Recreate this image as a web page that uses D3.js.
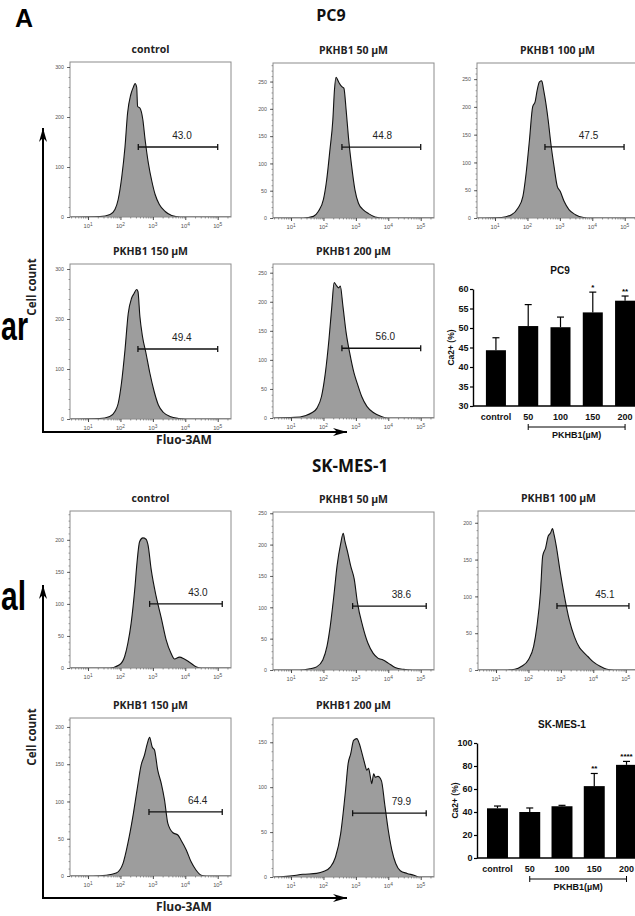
<!DOCTYPE html>
<html><head><meta charset="utf-8">
<script src="https://cdn.jsdelivr.net/npm/d3@7"></script>
<style>body{margin:0;background:#fff}svg{display:block}</style>
</head><body><svg id="c" width="635" height="916"></svg>
<script>
// ---------------- DATA ----------------
const histTitles = ["control","PKHB1 50 µM","PKHB1 100 µM","PKHB1 150 µM","PKHB1 200 µM",
                    "control","PKHB1 50 µM","PKHB1 100 µM","PKHB1 150 µM","PKHB1 200 µM"];
const gatePercents = ["43.0","44.8","47.5","49.4","56.0","43.0","38.6","45.1","64.4","79.9"];
const gateStart = [2.55,2.57,2.54,2.54,2.57,2.90,2.90,2.88,2.88,2.90];   // log10 fluorescence
const gateEnd   = [5.00,5.00,4.98,5.00,5.00,5.14,5.17,5.10,5.14,5.17];
const gateCount = [140,130,128,140,120,100,102,87,86,71];
const countMax  = [310,284,279,310,265,245,252,216,212,177];
const countTicks = [[0,100,200,300],[0,50,100,150,200,250],[0,50,100,150,200,250],[0,100,200,300],[0,50,100,150,200,250],
                    [0,50,100,150,200],[0,50,100,150,200,250],[0,50,100,150,200],[0,50,100,150,200],[0,50,100,150]];
const decadeTicks = [1,2,3,4,5];

// histograms: [log10 Fluo-3AM, cell count]
const pc9Control = [[1.37,1],[1.68,5],[1.83,15],[1.93,35],[2.04,80],[2.14,140],[2.22,208],[2.32,245],[2.40,260],[2.45,267],[2.50,260],[2.53,221],[2.60,218],[2.69,195],[2.76,155],[2.86,108],[2.97,71],[3.07,45],[3.20,25],[3.38,11],[3.58,3],[3.84,0]];
const pc9_50 = [[1.38,0],[1.69,3],[1.84,12],[2.00,34],[2.10,70],[2.20,125],[2.29,180],[2.34,235],[2.39,258],[2.43,254],[2.49,247],[2.56,241],[2.63,238],[2.70,198],[2.77,149],[2.87,95],[2.97,52],[3.08,27],[3.23,15],[3.39,8],[3.59,2],[3.85,0]];
const pc9_100 = [[1.20,1],[1.51,6],[1.71,18],[1.86,39],[1.96,81],[2.06,139],[2.16,200],[2.24,210],[2.30,230],[2.37,245],[2.44,247],[2.50,230],[2.57,206],[2.64,176],[2.72,135],[2.82,93],[2.92,57],[3.01,48],[3.13,30],[3.28,15],[3.48,6],[3.73,1],[3.94,0]];
const pc9_150 = [[1.36,1],[1.67,5],[1.83,15],[1.93,31],[2.03,71],[2.14,138],[2.24,211],[2.34,241],[2.42,251],[2.50,259],[2.54,255],[2.60,205],[2.68,165],[2.79,131],[2.91,91],[3.04,55],[3.17,28],[3.33,13],[3.53,5],[3.79,1],[4.00,0]];
const pc9_200 = [[1.11,1],[1.43,4],[1.64,9],[1.80,17],[1.94,37],[2.06,78],[2.17,135],[2.26,193],[2.33,233],[2.40,228],[2.47,224],[2.52,227],[2.60,193],[2.70,147],[2.81,112],[2.94,78],[3.04,60],[3.18,37],[3.34,20],[3.55,9],[3.77,3],[3.98,0]];
const skControl = [[1.67,0],[1.97,5],[2.13,18],[2.23,39],[2.33,70],[2.44,122],[2.51,164],[2.59,197],[2.69,203],[2.79,201],[2.85,192],[2.95,153],[3.10,112],[3.26,78],[3.41,44],[3.56,23],[3.67,14],[3.82,17],[3.97,14],[4.13,9],[4.33,2],[4.49,0]];
const sk_50 = [[1.26,0],[1.58,2],[1.79,5],[1.98,16],[2.11,38],[2.21,70],[2.32,118],[2.42,166],[2.53,201],[2.61,218],[2.66,206],[2.76,185],[2.84,166],[2.95,145],[3.05,107],[3.21,70],[3.37,43],[3.53,27],[3.68,19],[3.84,16],[4.00,11],[4.21,4],[4.47,1],[4.74,0]];
const sk_100 = [[1.26,0],[1.58,1],[1.79,5],[2.00,14],[2.16,32],[2.26,59],[2.37,105],[2.44,155],[2.53,166],[2.61,182],[2.68,186],[2.74,192],[2.79,184],[2.86,168],[2.97,136],[3.11,100],[3.26,68],[3.42,45],[3.58,30],[3.68,25],[3.84,18],[4.00,11],[4.21,5],[4.42,1],[4.63,0]];
const sk_150 = [[1.15,0],[1.56,1],[1.87,4],[2.08,17],[2.23,44],[2.38,79],[2.51,115],[2.64,149],[2.74,162],[2.83,178],[2.90,186],[2.98,173],[3.05,169],[3.15,142],[3.26,124],[3.36,102],[3.46,71],[3.62,58],[3.77,55],[3.87,48],[4.03,35],[4.18,19],[4.33,8],[4.49,1],[4.64,0]];
const sk_200 = [[0.45,0],[0.95,1],[1.37,3],[1.79,4],[2.00,6],[2.21,11],[2.37,22],[2.53,48],[2.68,96],[2.76,126],[2.84,137],[2.93,152],[3.03,154],[3.11,148],[3.18,139],[3.26,128],[3.34,119],[3.39,121],[3.45,111],[3.49,104],[3.55,115],[3.60,111],[3.68,112],[3.79,107],[3.89,81],[4.00,52],[4.11,30],[4.23,15],[4.37,7],[4.58,4],[4.79,2],[4.95,0]];
const hists = [pc9Control,pc9_50,pc9_100,pc9_150,pc9_200,skControl,sk_50,sk_100,sk_150,sk_200];

const barCats = ["control","50","100","150","200"];
const pc9Means = [44.3,50.5,50.2,54.0,57.0];
const pc9Errs  = [3.2,5.5,2.6,5.2,1.2];
const pc9Sig   = ["","","","*","**"];
const pc9Ticks = [30,35,40,45,50,55,60];
const skMeans = [43.2,40.0,45.0,62.5,81.0];
const skErrs  = [2.0,3.5,0.8,11.0,3.0];
const skSig   = ["","","","**","****"];
const skTicks = [0,20,40,60,80,100];

// ---------------- LAYOUT ----------------
const boxes = [
  {x:70,y:62,b:217,lo:4},{x:273,y:63,b:218,lo:1},{x:477,y:63,b:218,lo:4},
  {x:70,y:264,b:419,lo:4},{x:273,y:264,b:418,lo:4},
  {x:70,y:511,b:668,lo:12},{x:273,y:512,b:670,lo:12},{x:478,y:511,b:670,lo:12},
  {x:70,y:718,b:876,lo:12},{x:273,y:718,b:877,lo:12}
];
const BW = 161, LOGDOM = [0.444, 5.41];
const TF = "'Open Sans', 'DejaVu Sans', sans-serif";
const AF = "'Liberation Sans', Arial, sans-serif";

const svg = d3.select("#c");
const defs = svg.append("defs");

function drawHist(i){
  const bx = boxes[i];
  const x = d3.scaleLinear().domain(LOGDOM).range([bx.x, bx.x+BW]);
  const y = d3.scaleLinear().domain([0,countMax[i]]).range([bx.b, bx.y]);
  const g = svg.append("g");
  const cid = "clip"+i;
  defs.append("clipPath").attr("id",cid).append("rect")
    .attr("x",bx.x).attr("y",bx.y).attr("width",BW).attr("height",bx.b-bx.y);
  const full = [[LOGDOM[0],0], ...hists[i], [LOGDOM[1],0]];
  const area = d3.area().x(d=>x(d[0])).y0(bx.b).y1(d=>y(d[1])).curve(d3.curveMonotoneX);
  const line = d3.line().x(d=>x(d[0])).y(d=>y(d[1])).curve(d3.curveMonotoneX);
  g.append("path").datum(full).attr("d",area).attr("fill","#9d9d9d").attr("clip-path",`url(#${cid})`);
  g.append("path").datum(full).attr("d",line).attr("fill","none").attr("stroke","#111").attr("stroke-width",1.1).attr("clip-path",`url(#${cid})`);
  g.append("rect").attr("x",bx.x).attr("y",bx.y).attr("width",BW).attr("height",bx.b-bx.y)
    .attr("fill","none").attr("stroke","#8c8c8c").attr("stroke-width",1);
  // y axis
  const tk = countTicks[i];
  const step = tk[1]-tk[0];
  const minor = d3.range(0, countMax[i]+0.01, step/5);
  const yMinor = g.append("g").attr("transform",`translate(${bx.x},0)`)
    .call(d3.axisLeft(y).tickValues(minor).tickSize(1.5).tickFormat(""));
  yMinor.select(".domain").remove();
  yMinor.selectAll("line").attr("stroke","#666").attr("stroke-width",0.6);
  const yMaj = g.append("g").attr("transform",`translate(${bx.x},0)`)
    .call(d3.axisLeft(y).tickValues(tk).tickSize(3).tickPadding(3));
  yMaj.select(".domain").remove();
  yMaj.selectAll("line").attr("stroke","#444").attr("stroke-width",0.8);
  yMaj.selectAll("text").attr("font-size",5.3).attr("font-family",AF).attr("fill","#555");
  // x axis
  const minX = [];
  for(let d=0; d<6; d++) for(let k=2;k<10;k++){const v=d+Math.log10(k); if(v>LOGDOM[0]&&v<LOGDOM[1]) minX.push(v);}
  const xMinor = g.append("g").attr("transform",`translate(0,${bx.b})`)
    .call(d3.axisBottom(x).tickValues(minX).tickSize(1.5).tickFormat(""));
  xMinor.select(".domain").remove();
  xMinor.selectAll("line").attr("stroke","#555").attr("stroke-width",0.6);
  const xMaj = g.append("g").attr("transform",`translate(0,${bx.b})`)
    .call(d3.axisBottom(x).tickValues(decadeTicks).tickSize(3).tickFormat(""));
  xMaj.select(".domain").remove();
  xMaj.selectAll("line").attr("stroke","#333").attr("stroke-width",0.9);
  decadeTicks.forEach(d=>{
    const t = g.append("text").attr("x",x(d)).attr("y",bx.b+11).attr("text-anchor","middle")
      .attr("font-family",AF).attr("font-size",5.8).attr("fill","#555");
    t.append("tspan").text("10");
    t.append("tspan").attr("dy",-2.5).attr("font-size",4.8).text(d);
  });
  // title
  g.append("text").attr("x",bx.x+BW/2).attr("y",bx.y-9).attr("text-anchor","middle")
    .attr("font-family",TF).attr("font-weight",700).attr("font-size",10.5).attr("fill","#222").text(histTitles[i]);
  // gate
  const gy = y(gateCount[i]), gx1 = x(gateStart[i]), gx2 = x(gateEnd[i]);
  g.append("line").attr("x1",gx1).attr("x2",gx2).attr("y1",gy).attr("y2",gy).attr("stroke","#111").attr("stroke-width",1.3);
  [gx1,gx2].forEach(v=>g.append("line").attr("x1",v).attr("x2",v).attr("y1",gy-3).attr("y2",gy+3).attr("stroke","#111").attr("stroke-width",1.3));
  g.append("text").attr("x",(gx1+gx2)/2+bx.lo).attr("y",gy-8).attr("text-anchor","middle")
    .attr("font-family",AF).attr("font-size",10).attr("fill","#222").text(gatePercents[i]);
}
for(let i=0;i<10;i++) drawHist(i);

// big arrows
function arrow(x1,y1,x2,y2){
  svg.append("line").attr("x1",x1).attr("y1",y1).attr("x2",x2).attr("y2",y2).attr("stroke","#000").attr("stroke-width",2);
  const ang = Math.atan2(y2-y1,x2-x1), L=14, W=4;
  const bxp = x2-L*Math.cos(ang), byp = y2-L*Math.sin(ang);
  const px = -Math.sin(ang)*W, py = Math.cos(ang)*W;
  svg.append("path").attr("d",`M${x2},${y2}L${bxp+px},${byp+py}L${bxp+L*0.3*Math.cos(ang)},${byp+L*0.3*Math.sin(ang)}L${bxp-px},${byp-py}Z`).attr("fill","#000");
}
arrow(43,432,43,128); arrow(42,432,347,432);
arrow(43,898,43,585); arrow(42,898,347,898);
[[287],[737]].forEach(([cy])=>svg.append("text").attr("transform",`translate(36,${cy}) rotate(-90)`).attr("text-anchor","middle")
  .attr("font-family",TF).attr("font-weight",700).attr("font-size",11.5).attr("fill","#222").text("Cell count"));
[[444],[911]].forEach(([by])=>svg.append("text").attr("x",184).attr("y",by).attr("text-anchor","middle")
  .attr("font-family",TF).attr("font-weight",700).attr("font-size",12).attr("fill","#222").text("Fluo-3AM"));

// headings
svg.append("text").attr("x",15).attr("y",27).attr("font-family",AF).attr("font-weight",700).attr("font-size",25).text("A");
svg.append("text").attr("x",331).attr("y",21).attr("text-anchor","middle").attr("font-family",TF).attr("font-weight",700).attr("font-size",16).attr("fill","#111").text("PC9");
svg.append("text").attr("x",350).attr("y",472).attr("text-anchor","middle").attr("font-family",TF).attr("font-weight",700).attr("font-size",17).attr("fill","#111").text("SK-MES-1");
svg.append("text").attr("x",1).attr("y",340).attr("font-family",AF).attr("font-weight",700).attr("font-size",40)
  .attr("textLength",27).attr("lengthAdjust","spacingAndGlyphs").text("ar");
svg.append("text").attr("x",1).attr("y",610).attr("font-family",AF).attr("font-weight",700).attr("font-size",40)
  .attr("textLength",25).attr("lengthAdjust","spacingAndGlyphs").text("al");

// bar charts
function barChart(o){
  const x = d3.scaleBand().domain(barCats).range([o.x0, o.x0+o.len]).paddingInner(o.pi).paddingOuter(o.po);
  const y = d3.scaleLinear().domain([o.ticks[0], o.ticks[o.ticks.length-1]]).range([o.yb, o.yt]);
  const g = svg.append("g");
  const bw = x.bandwidth();
  g.selectAll("rect.bar").data(o.means).join("rect").attr("class","bar")
    .attr("x",(d,i)=>x(barCats[i])).attr("width",bw).attr("y",d=>y(d)).attr("height",d=>o.yb-y(d)).attr("fill","#000");
  o.means.forEach((m,i)=>{
    const cx = x(barCats[i])+bw/2, top = y(m+o.errs[i]);
    g.append("line").attr("x1",cx).attr("x2",cx).attr("y1",y(m)).attr("y2",top).attr("stroke","#000").attr("stroke-width",1.2);
    g.append("line").attr("x1",cx-3.5).attr("x2",cx+3.5).attr("y1",top).attr("y2",top).attr("stroke","#000").attr("stroke-width",1.2);
    if(o.sig[i]) g.append("text").attr("x",cx).attr("y",top-2).attr("text-anchor","middle").attr("font-family",AF)
      .attr("font-weight",700).attr("font-size",8).text(o.sig[i]);
    g.append("text").attr("x",cx).attr("y",o.yb+14).attr("text-anchor","middle").attr("font-family",AF)
      .attr("font-weight",700).attr("font-size",9).attr("fill","#111").text(barCats[i]);
  });
  const ya = g.append("g").attr("transform",`translate(${o.x0},0)`).call(d3.axisLeft(y).tickValues(o.ticks).tickSize(3).tickPadding(1.5).tickSizeOuter(0));
  ya.select(".domain").attr("stroke-width",1.4);
  ya.selectAll("line").attr("stroke-width",1.2);
  ya.selectAll("text").attr("font-family",AF).attr("font-weight",700).attr("font-size",9).attr("fill","#111");
  g.append("line").attr("x1",o.x0).attr("x2",o.x0+o.len).attr("y1",o.yb).attr("y2",o.yb).attr("stroke","#000").attr("stroke-width",1.4);
  g.append("text").attr("transform",`translate(${o.x0-19},${(o.yb+o.yt)/2}) rotate(-90)`).attr("text-anchor","middle")
    .attr("font-family",AF).attr("font-weight",700).attr("font-size",8.5).attr("fill","#111").text("Ca2+ (%)");
  g.append("text").attr("x",o.titleX).attr("y",o.yt-15).attr("text-anchor","middle").attr("font-family",AF)
    .attr("font-weight",700).attr("font-size",10).attr("fill","#111").text(o.title);
  const bx1 = x("50")+bw/2, bx2 = x("200")+bw/2, by = o.yb+21;
  g.append("line").attr("x1",bx1).attr("x2",bx2).attr("y1",by).attr("y2",by).attr("stroke","#000").attr("stroke-width",1);
  [bx1,bx2].forEach(v=>g.append("line").attr("x1",v).attr("x2",v).attr("y1",by-3).attr("y2",by+3).attr("stroke","#000").attr("stroke-width",1));
  g.append("text").attr("x",(bx1+bx2)/2).attr("y",by+11).attr("text-anchor","middle").attr("font-family",AF)
    .attr("font-weight",700).attr("font-size",9).attr("fill","#111").text("PKHB1(µM)");
}
barChart({x0:473,len:175,pi:0.38,po:0.4,yb:406,yt:289,ticks:pc9Ticks,means:pc9Means,errs:pc9Errs,sig:pc9Sig,title:"PC9",titleX:560});
barChart({x0:477,len:170,pi:0.35,po:0.31,yb:858,yt:743,ticks:skTicks,means:skMeans,errs:skErrs,sig:skSig,title:"SK-MES-1",titleX:562});
</script></body></html>
